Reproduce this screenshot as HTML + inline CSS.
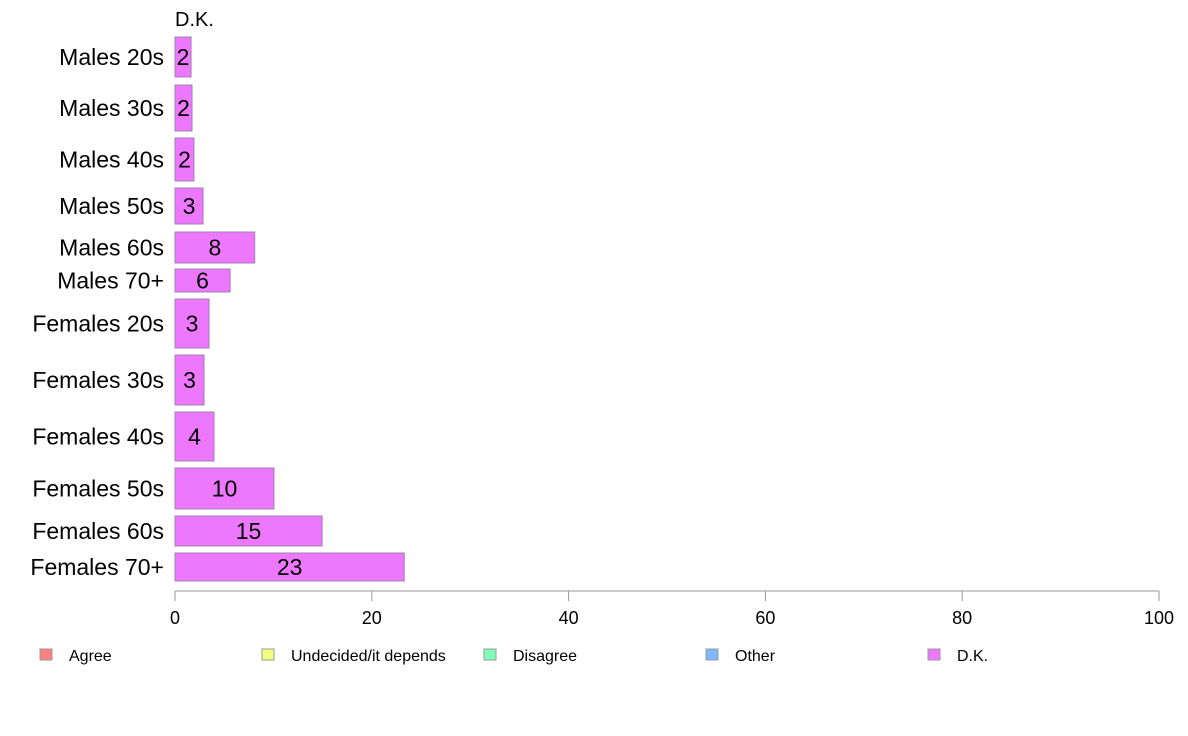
<!DOCTYPE html>
<html><head><meta charset="utf-8"><style>
body{margin:0;background:#fff;}
svg{display:block;font-family:"Liberation Sans",Arial,sans-serif;}
</style></head><body>
<svg id="chart" width="1188" height="736" viewBox="0 0 1188 736">
<text x="175" y="26" font-size="20">D.K.</text>
<g id="bars"></g>
<g id="axis"></g>
<g id="legend"></g>
</svg>
<script>
const categories = ["Males 20s","Males 30s","Males 40s","Males 50s","Males 60s","Males 70+","Females 20s","Females 30s","Females 40s","Females 50s","Females 60s","Females 70+"];
const dkValues = [1.63,1.73,1.93,2.85,8.1,5.6,3.46,2.95,3.96,10.06,14.95,23.3];
const tickLabels = [0,20,40,60,80,100];
const legendLabels = ["Agree","Undecided/it depends","Disagree","Other","D.K."];
const legendColors = ["#ff8080","#f0ff80","#80ffb8","#80b8ff","#ee77ff"];
// bar vertical bands (layout, from reference)
const bandTop = [37,85,138,188,232,269,299,355,412,468,516,553];
const bandBot = [77,131,181,224,263,292,348,405,461,509,546,581];

const NS="http://www.w3.org/2000/svg";
const x0=175, x1=1159;
const xs = v => x0 + (v/100)*(x1-x0);
function mk(tag, attrs, parent){const e=document.createElementNS(NS,tag);for(const k in attrs)e.setAttribute(k,attrs[k]);parent.appendChild(e);return e;}
const bars=document.getElementById('bars');
categories.forEach((c,i)=>{
  const y=bandTop[i], h=bandBot[i]-bandTop[i], w=xs(dkValues[i])-x0;
  const r=mk('rect',{x:x0,y:y,width:w,height:h,fill:'#ee77ff',stroke:'#a080b0','stroke-width':1},bars);
  
  
  const cy=y+h/2;
  const t=mk('text',{x:x0+w/2,y:cy+8,'font-size':23,'text-anchor':'middle',fill:'#000'},bars);
  t.textContent=Math.round(dkValues[i]);
  
  
  const l=mk('text',{x:164,y:cy+8,'font-size':23,'text-anchor':'end',fill:'#000'},bars);
  l.textContent=c;
  
  
});
const axis=document.getElementById('axis');
const al=mk('line',{x1:x0,x2:x1,y1:591,y2:591,stroke:'#999','stroke-width':1},axis);


tickLabels.forEach(v=>{
  const tl=mk('line',{x1:xs(v),x2:xs(v),y1:591,y2:601,stroke:'#999','stroke-width':1},axis);
  
  
  const t=mk('text',{x:xs(v),y:624,'font-size':18,'text-anchor':'middle',fill:'#000'},axis);
  t.textContent=v;
  
  
});
const lg=document.getElementById('legend');
legendLabels.forEach((s,i)=>{
  const bx=40+i*222;
  const r=mk('rect',{x:bx,y:649,width:12,height:11,fill:legendColors[i],stroke:'#999','stroke-width':1},lg);
  
  
  const t=mk('text',{x:bx+29,y:661,'font-size':16,fill:'#000'},lg);
  t.textContent=s;
  
  
});
</script>
</body></html>
